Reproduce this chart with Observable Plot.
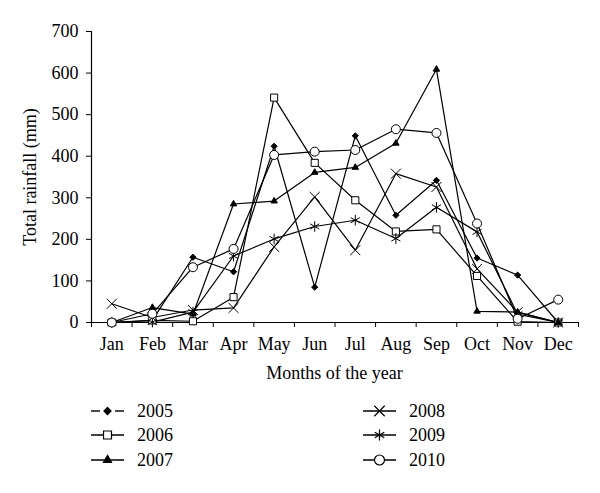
<!DOCTYPE html>
<html><head><meta charset="utf-8">
<script src="https://cdn.jsdelivr.net/npm/d3@7"></script>
<script src="https://cdn.jsdelivr.net/npm/@observablehq/plot@0.6"></script>
<style>
body{margin:0;background:#fff;font-family:"Liberation Serif","Times New Roman",serif;color:#000;}
#chart{position:relative;width:600px;height:493px;overflow:hidden;}
#plot svg{display:block;}
.xlabel{position:absolute;top:360px;left:91px;width:487px;height:26px;line-height:26px;text-align:center;font-size:18px;}
.legcol{position:absolute;top:398.5px;}
.legitem{display:flex;align-items:center;height:24.5px;line-height:24.5px;font-size:18px;}
.legitem svg{display:block;margin-right:13px;}
</style></head><body>
<div id="chart">
  <div id="plot"></div>
  <div class="xlabel">Months of the year</div>
  <div class="legcol" id="leg1" style="left:91px"></div>
  <div class="legcol" id="leg2" style="left:363px"></div>
</div>
<script>
const months = ["Jan","Feb","Mar","Apr","May","Jun","Jul","Aug","Sep","Oct","Nov","Dec"];
const years = ["2005","2006","2007","2008","2009","2010"];
const y2005 = [0, 5, 157, 122, 424, 85, 449, 258, 342, 155, 114, 0];
const y2006 = [0, 5, 3, 61, 541, 384, 294, 219, 224, 112, 2, 0];
const y2007 = [0, 36, 20, 285, 292, 361, 373, 431, 609, 27, 25, 0];
const y2008 = [45, 12, 30, 35, 182, 302, 174, 358, 326, 129, 25, 0];
const y2009 = [0, 1, 25, 160, 201, 231, 246, 202, 277, 218, 20, 0];
const y2010 = [0, 21, 133, 177, 403, 411, 415, 465, 456, 238, 9, 55];
const yTicks = [0, 100, 200, 300, 400, 500, 600, 700];

const seriesValues = [y2005, y2006, y2007, y2008, y2009, y2010];
const symbols = ["diamond2", "square", "triangle", "times", "asterisk", "circle"];
const fills = ["black", "white", "black", "none", "none", "white"];
const radii = [2.8, 4, 2.4, 4.6, 5, 4.5];

const data = years.flatMap((yr, s) => seriesValues[s].map((v, i) => ({year: yr, s, month: months[i], m: i + 0.5, v})));

const marks = [];
years.forEach((yr, s) => {
  marks.push(Plot.line(data.filter(r => r.s === s), {x: "m", y: "v", stroke: "black", strokeWidth: 1.2}));
});
years.forEach((yr, s) => {
  marks.push(Plot.dot(data.filter(r => r.s === s), {x: "m", y: "v", symbol: symbols[s], r: radii[s], fill: fills[s], stroke: "black", strokeWidth: 1}));
});

const chart = Plot.plot({
  width: 600,
  height: 360,
  marginLeft: 91,
  marginRight: 22,
  marginTop: 31,
  marginBottom: 38,
  style: {fontFamily: "'Liberation Serif','Times New Roman',serif", fontSize: "18px", color: "black", background: "white"},
  x: {domain: [0, 12]},
  y: {domain: [0, 700]},
  marks: [
    Plot.axisY({ticks: yTicks, tickSize: 5, tickPadding: 8, label: "Total rainfall (mm)", labelAnchor: "center", labelOffset: 68, labelArrow: "none"}),
    Plot.axisX({ticks: d3.range(0, 13), tickSize: 5, tickFormat: () => "", label: null}),
    Plot.axisX({ticks: months.map((m, i) => i + 0.5), tickSize: 0, tickPadding: 15, tickFormat: v => months[Math.round(v - 0.5)], label: null}),
    Plot.ruleX([0], {stroke: "black", strokeWidth: 1.2}),
    Plot.ruleY([0], {stroke: "black", strokeWidth: 1.2}),
    ...marks
  ]
});
document.getElementById("plot").appendChild(chart);

// legend
const legendSizes = [3.2, 4.5, 3, 4.8, 5.2, 5];
years.forEach((yr, s) => {
  const col = document.getElementById(s < 3 ? "leg1" : "leg2");
  const item = document.createElement("div");
  item.className = "legitem";
  const w = 33, h = 24;
  const svg = d3.create("svg").attr("width", w).attr("height", h);
  if (s === 0) {
    svg.append("line").attr("x1", 0).attr("x2", 9).attr("y1", h/2).attr("y2", h/2).attr("stroke", "black").attr("stroke-width", 1.4);
    svg.append("line").attr("x1", 24).attr("x2", 33).attr("y1", h/2).attr("y2", h/2).attr("stroke", "black").attr("stroke-width", 1.4);
  } else {
    svg.append("line").attr("x1", 0).attr("x2", w).attr("y1", h/2).attr("y2", h/2).attr("stroke", "black").attr("stroke-width", 1.4);
  }
  const typeMap = {diamond2: d3.symbolDiamond2, square: d3.symbolSquare, triangle: d3.symbolTriangle, times: d3.symbolTimes, asterisk: d3.symbolAsterisk, circle: d3.symbolCircle};
  const r = legendSizes[s];
  svg.append("path")
    .attr("d", d3.symbol(typeMap[symbols[s]], Math.PI * r * r)())
    .attr("transform", `translate(${w/2},${h/2})`)
    .attr("fill", fills[s]).attr("stroke", "black").attr("stroke-width", 1.2);
  item.appendChild(svg.node());
  const t = document.createElement("span");
  t.textContent = yr;
  item.appendChild(t);
  col.appendChild(item);
});
</script>
</body></html>
